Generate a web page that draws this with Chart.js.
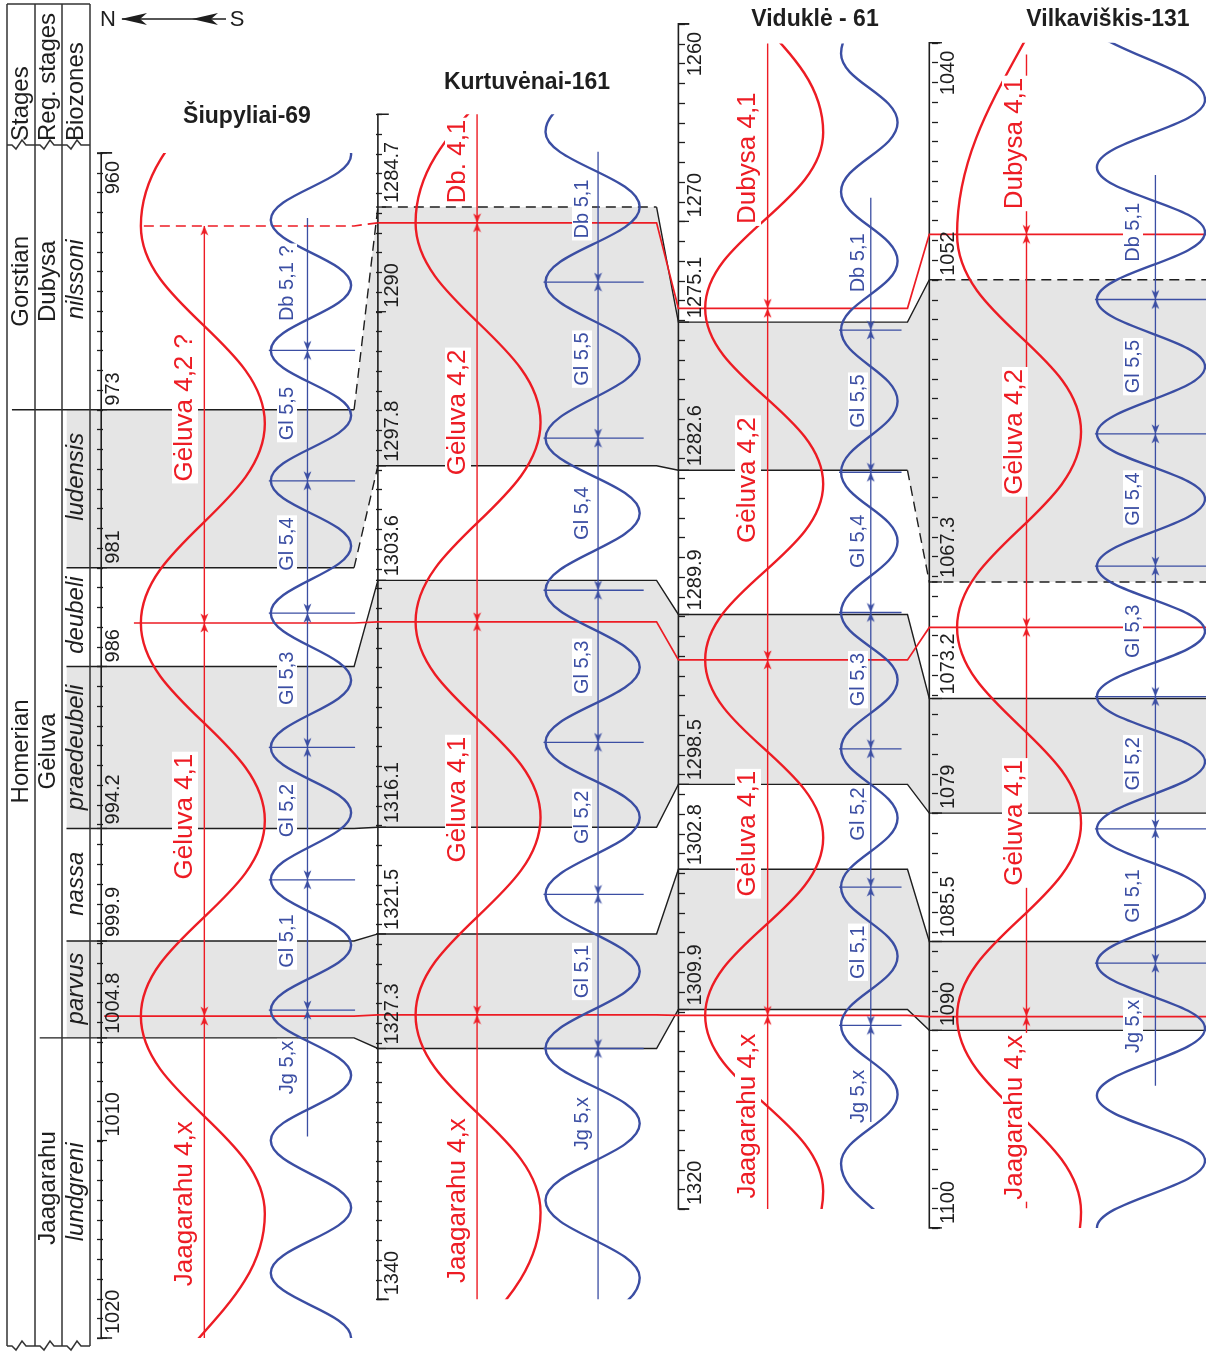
<!DOCTYPE html>
<html>
<head>
<meta charset="utf-8">
<title>Homerian cyclostratigraphic correlation</title>
<script src="https://cdn.jsdelivr.net/npm/chart.js@4.4.1/dist/chart.umd.min.js"></script>
<style>
  html, body { margin: 0; padding: 0; background: #fff; }
  canvas { display: block; }
</style>
</head>
<body>
<canvas id="section" width="1211" height="1353"></canvas>
<script>
/* eslint-disable */
// ---- wells (depths in metres) ----
const wellNames = ['Šiupyliai-69', 'Kurtuvėnai-161', 'Viduklė - 61', 'Vilkaviškis-131'];
const wellTop = [960, 1280, 1260, 1040];
const wellBase = [1020, 1340, 1320, 1100];

// biozone horizons, one depth per well
const topLudensis = [973, 1284.7, 1275.1, 1052];
const baseLudensis = [981, 1297.8, 1282.6, 1067.3];
const topPraedeubeli = [986, 1303.6, 1289.9, 1073.2];
const basePraedeubeli = [994.2, 1316.1, 1298.5, 1079];
const topParvus = [999.9, 1321.5, 1302.8, 1085.5];
const baseParvus = [1004.8, 1327.3, 1309.9, 1090];

// 4th order cycle boundaries
const baseDubysa41 = [963.7, 1285.5, 1274.4, 1049.7];
const baseGeluva42 = [983.8, 1305.7, 1292.2, 1069.6];
const baseGeluva41 = [1003.7, 1325.6, 1310.2, 1089.3];

// labelled depths on each log
const siupTicks = [960, 973, 981, 986, 994.2, 999.9, 1004.8, 1010, 1020];
const kurtTicks = [1284.7, 1290, 1297.8, 1303.6, 1316.1, 1321.5, 1327.3, 1340];
const vidTicks = [1260, 1270, 1275.1, 1282.6, 1289.9, 1298.5, 1302.8, 1309.9, 1320];
const vilkTicks = [1040, 1052, 1067.3, 1073.2, 1079, 1085.5, 1090, 1100];

// turning points of the 4th order curves (alternating sides)
const redTurns = [
  [953.7, 963.7, 973.7, 983.8, 993.8, 1003.7, 1013.7, 1023.7],
  [1275.5, 1285.5, 1295.6, 1305.7, 1315.6, 1325.6, 1335.6, 1345.6],
  [1256.6, 1265.5, 1274.4, 1283.3, 1292.2, 1301.2, 1310.2, 1319.1, 1328],
  [1015, 1031, 1049.7, 1059.7, 1069.6, 1079.5, 1089.3, 1099.2, 1109]
];
const redFirstRight = [true, true, false, false];

// turning points of the 5th order curves
const blueTurns = [
  [956.8, 960.1, 963.4, 966.7, 970.0, 973.3, 976.6, 979.9, 983.3, 986.7, 990.1, 993.4, 996.8, 1000.1, 1003.4, 1006.7, 1010.0, 1013.4, 1016.7, 1020.0, 1023.4],
  [1277.1, 1280.9, 1284.7, 1288.5, 1292.4, 1296.4, 1300.2, 1304.1, 1308.0, 1311.8, 1315.6, 1319.5, 1323.4, 1327.3, 1331.1, 1335.0, 1338.9, 1342.7],
  [1258.0, 1261.5, 1265.0, 1268.5, 1272.0, 1275.5, 1279.1, 1282.7, 1286.2, 1289.8, 1293.2, 1296.7, 1300.2, 1303.7, 1307.2, 1310.7, 1314.2, 1317.7, 1321.2],
  [1039.6, 1042.9, 1046.3, 1049.6, 1053.0, 1056.4, 1059.8, 1063.1, 1066.5, 1069.8, 1073.1, 1076.4, 1079.8, 1083.2, 1086.6, 1089.9, 1093.3, 1096.6, 1100, 1103.3]
];
const blueFirstRight = [false, true, true, false];
const blueBounds = [
  [970.0, 976.6, 983.3, 990.1, 996.8, 1003.4],
  [1288.5, 1296.4, 1304.1, 1311.8, 1319.5, 1327.3],
  [1275.5, 1282.7, 1289.8, 1296.7, 1303.7, 1310.7],
  [1053.0, 1059.8, 1066.5, 1073.1, 1079.8, 1086.6]
];
const curveSpan = [[960, 1020], [1280, 1340], [1261, 1320], [1040, 1100]];
const redStem = [[963.7, 1020], [1280, 1340], [1261, 1320], [1040.6, 1099]];
const blueStem = [[963.3, 1009.8], [1281.9, 1340], [1268.8, 1315.6], [1046.7, 1092.8]];

// cycle names and the depth each name is centred on
const redNames = [
  ['Gėluva 4,2 ?', 'Gėluva 4,1', 'Jaagarahu 4,x'],
  ['Db. 4,1', 'Gėluva 4,2', 'Gėluva 4,1', 'Jaagarahu 4,x'],
  ['Dubysa 4,1', 'Gėluva 4,2', 'Gėluva 4,1', 'Jaagarahu 4,x'],
  ['Dubysa 4,1', 'Gėluva 4,2', 'Gėluva 4,1', 'Jaagarahu 4,x']
];
const redNameAt = [
  [972.9, 993.6, 1013.2],
  [1282.4, 1295.1, 1314.7, 1335.0],
  [1266.8, 1283.1, 1301.0, 1315.3],
  [1045.1, 1059.7, 1079.5, 1094.4]
];
const blueNames = [
  ['Db 5,1 ?', 'Gl 5,5', 'Gl 5,4', 'Gl 5,3', 'Gl 5,2', 'Gl 5,1', 'Jg 5,x'],
  ['Db 5,1', 'Gl 5,5', 'Gl 5,4', 'Gl 5,3', 'Gl 5,2', 'Gl 5,1', 'Jg 5,x'],
  ['Db 5,1', 'Gl 5,5', 'Gl 5,4', 'Gl 5,3', 'Gl 5,2', 'Gl 5,1', 'Jg 5,x'],
  ['Db 5,1', 'Gl 5,5', 'Gl 5,4', 'Gl 5,3', 'Gl 5,2', 'Gl 5,1', 'Jg 5,x']
];
const blueNameAt = [
  [966.6, 973.2, 979.8, 986.6, 993.3, 999.9, 1006.3],
  [1284.8, 1292.4, 1300.2, 1308.0, 1315.6, 1323.4, 1331.1],
  [1272.1, 1279.1, 1286.2, 1293.2, 1300.0, 1307.0, 1314.3],
  [1049.6, 1056.4, 1063.1, 1069.8, 1076.5, 1083.2, 1089.8]
];

// stratigraphic columns (Šiupyliai-69 depths)
const stageNames = ['Gorstian', 'Homerian'];
const stageAt = [966.5, 990.3];
const regStageNames = ['Dubysa', 'Gėluva', 'Jaagarahu'];
const regStageAt = [966.5, 990.3, 1012.4];
const biozoneNames = ['nilssoni', 'ludensis', 'deubeli', 'praedeubeli', 'nassa', 'parvus', 'lundgreni'];
const biozoneAt = [966.4, 976.4, 983.4, 990.1, 997.0, 1002.3, 1012.6];

// ---- layout ----
const W = 1211, H = 1353;
const PX_PER_M = 19.9;
const wellTopPx = [149, 110, 19, 38];
const axisX = [97, 376, 679, 932];
const wellRight = [352, 657, 910, W];
const redLane = [[137, 262], [414, 540], [706, 825], [960, 1085]];
const blueLane = [[268, 349], [545, 640], [843, 900], [1101, 1210]];
const redStemX = [201, 476, 769, 1030];
const blueStemX = [305, 598, 873, 1160];
const redTextX = [185, 458, 748, 1015];
const blueTextX = [287, 582, 858, 1133];
const titleXY = [[247, 117], [527, 83], [815, 20], [1108, 20]];

const RED = '#ed1c24';
const BLUE = '#3b4ea3';
const GREY = '#e5e5e5';
const INK = '#1e1e1e';
const FONT = '"Liberation Sans", Arial, Helvetica, sans-serif';

// every well gets its own depth scale; all share the same metres-per-pixel
const yMin = wellTop.map((d, k) => d - wellTopPx[k] / PX_PER_M);
const shift = yMin.map(m => m - yMin[0]);

const scales = { x: { type: 'linear', min: 0, max: W, display: false } };
wellTop.forEach((top, k) => {
  const minor = [];
  for (let d = Math.ceil(top); d <= wellBase[k]; d++) minor.push(d);
  scales['w' + k] = {
    axis: 'y',
    type: 'linear',
    reverse: true,
    min: yMin[k],
    max: yMin[k] + H / PX_PER_M,
    position: { x: axisX[k] },
    border: { display: false },
    grid: { display: false },
    ticks: { display: false, autoSkip: false },
    // one tick per metre of the logged interval
    afterBuildTicks: (scale) => { scale.ticks = minor.map(v => ({ value: v })); }
  };
});

// horizon traced across the four wells, expressed on the first well's scale
function horizon(depths, x0) {
  const xs = [x0, wellRight[0], axisX[1], wellRight[1], axisX[2], wellRight[2], axisX[3], W];
  return xs.map((x, i) => ({ x, y: depths[i >> 1] - shift[i >> 1] }));
}

function wave(turns, firstRight, lane) {
  return turns.map((d, i) => ({ x: ((i % 2 === 0) === firstRight) ? lane[1] : lane[0], y: d }));
}

function arrowSprite(color) {
  // tip sits at the sprite centre, pointing down
  const c = document.createElement('canvas');
  c.width = 9; c.height = 22;
  const g = c.getContext('2d');
  g.fillStyle = color;
  g.beginPath();
  g.moveTo(4.5, 11);
  g.lineTo(0.6, 1.5);
  g.lineTo(4.5, 4);
  g.lineTo(8.4, 1.5);
  g.closePath();
  g.fill();
  return c;
}
const redArrow = arrowSprite(RED);
const blueArrow = arrowSprite(BLUE);

const datasets = [];
const addLine = (data, yAxisID, opts) => datasets.push(Object.assign({
  type: 'line', data, xAxisID: 'x', yAxisID, pointRadius: 0, fill: false,
  borderColor: INK, borderWidth: 1.4, tension: 0, order: 6
}, opts));
const dashBy = (flags) => ({ borderDash: ctx => flags[ctx.p0DataIndex] ? [10, 6] : [] });

// grey biozone bands
[[topLudensis, baseLudensis], [topPraedeubeli, basePraedeubeli], [topParvus, baseParvus]].forEach(([a, b]) => {
  addLine(horizon(a, 62), 'w0', { borderWidth: 0, borderColor: 'rgba(0,0,0,0)', backgroundColor: GREY, fill: '+1', order: 20 });
  addLine(horizon(b, 62), 'w0', { borderWidth: 0, borderColor: 'rgba(0,0,0,0)', order: 20 });
});

// black correlation lines
addLine(horizon(topLudensis, 7), 'w0', { segment: dashBy([0, 1, 1, 0, 0, 0, 1]) });
addLine(horizon(baseLudensis, 62), 'w0', { segment: dashBy([0, 1, 0, 0, 0, 1, 1]) });
addLine(horizon(topPraedeubeli, 62), 'w0', {});
addLine(horizon(basePraedeubeli, 62), 'w0', {});
addLine(horizon(topParvus, 62), 'w0', {});
addLine(horizon(baseParvus, 35), 'w0', {});

// red cycle correlation lines
addLine(horizon(baseDubysa41, 140), 'w0', { borderColor: RED, borderWidth: 1.7, order: 5, segment: dashBy([1, 1, 0, 0, 0, 0, 0]) });
addLine(horizon(baseGeluva42, 130), 'w0', { borderColor: RED, borderWidth: 1.7, order: 5 });
addLine(horizon(baseGeluva41, 100), 'w0', { borderColor: RED, borderWidth: 1.7, order: 5 });

function arrowSet(x, bounds, stem, sprite, yAxisID) {
  const pts = [], rot = [];
  bounds.forEach(b => {
    if (b > stem[0] + 0.2) { pts.push({ x, y: b }); rot.push(0); }
    if (b < stem[1] - 0.2) { pts.push({ x, y: b }); rot.push(180); }
  });
  datasets.push({
    type: 'line', data: pts, xAxisID: 'x', yAxisID, showLine: false,
    pointStyle: sprite, pointRotation: rot, pointRadius: 4, order: 1
  });
}

for (let k = 0; k < 4; k++) {
  const yId = 'w' + k;
  const redBounds = [baseDubysa41[k], baseGeluva42[k], baseGeluva41[k]];

  // depth axis line with end caps
  addLine([
    { x: axisX[k] + 11, y: wellTop[k] }, { x: axisX[k], y: wellTop[k] },
    { x: axisX[k], y: wellBase[k] }, { x: axisX[k] + 11, y: wellBase[k] }
  ], yId, { borderWidth: 1.6, order: 6 });

  // cycle curves
  const curveOpts = { borderWidth: 2.4, tension: 0.4, capBezierPoints: false, order: 4, clipDepth: curveSpan[k] };
  addLine(wave(redTurns[k], redFirstRight[k], redLane[k]), yId, Object.assign({ borderColor: RED }, curveOpts));
  addLine(wave(blueTurns[k], blueFirstRight[k], blueLane[k]), yId, Object.assign({ borderColor: BLUE }, curveOpts));

  // cycle stems
  addLine([{ x: redStemX[k], y: redStem[k][0] }, { x: redStemX[k], y: redStem[k][1] }], yId,
    { borderColor: RED, borderWidth: 1.4, order: 3 });
  addLine([{ x: blueStemX[k], y: blueStem[k][0] }, { x: blueStemX[k], y: blueStem[k][1] }], yId,
    { borderColor: BLUE, borderWidth: 1.3, order: 3 });

  // 5th order boundary marks
  const marks = [];
  blueBounds[k].forEach(b => {
    marks.push({ x: blueLane[k][0] - 2, y: b }, { x: blueLane[k][1] + 4, y: b }, { x: blueLane[k][1] + 4, y: null });
  });
  addLine(marks, yId, { borderColor: BLUE, borderWidth: 1.3, order: 3 });

  arrowSet(redStemX[k], redBounds, redStem[k], redArrow, yId);
  arrowSet(blueStemX[k], blueBounds[k], blueStem[k], blueArrow, yId);
}

// ---- text helpers ----
function vText(ctx, text, x, y, font, color, align, box) {
  ctx.save();
  ctx.translate(x, y);
  ctx.rotate(-Math.PI / 2);
  ctx.font = font;
  ctx.textAlign = align || 'center';
  ctx.textBaseline = 'middle';
  if (box) {
    const w = ctx.measureText(text).width;
    const x0 = ctx.textAlign === 'center' ? -w / 2 : ctx.textAlign === 'left' ? 0 : -w;
    ctx.fillStyle = '#fff';
    ctx.fillRect(x0 - 2, -box / 2, w + 4, box);
  }
  ctx.fillStyle = color;
  ctx.fillText(text, 0, 0);
  ctx.restore();
}

function zigzag(ctx, xl, xr, y) {
  ctx.beginPath();
  ctx.moveTo(xl, y);
  ctx.lineTo(xl + 5, y);
  ctx.lineTo(xl + 9, y + 4);
  ctx.lineTo(xl + 15, y - 5);
  ctx.lineTo(xl + 19, y);
  ctx.lineTo(xr, y);
  ctx.stroke();
}

function arrowHead(ctx, x, y) {
  ctx.beginPath();
  ctx.moveTo(x, y);
  ctx.lineTo(x + 26, y - 6);
  ctx.lineTo(x + 19, y);
  ctx.lineTo(x + 26, y + 6);
  ctx.closePath();
  ctx.fill();
}

const sectionDecor = {
  id: 'sectionDecor',
  beforeDatasetDraw(chart, args) {
    const ds = chart.data.datasets[args.index];
    if (!ds.clipDepth) return;
    const s = chart.scales[ds.yAxisID];
    const y0 = s.getPixelForValue(ds.clipDepth[0]);
    const y1 = s.getPixelForValue(ds.clipDepth[1]);
    chart.ctx.save();
    chart.ctx.beginPath();
    chart.ctx.rect(0, y0, chart.width, y1 - y0);
    chart.ctx.clip();
  },
  afterDatasetDraw(chart, args) {
    if (chart.data.datasets[args.index].clipDepth) chart.ctx.restore();
  },
  afterDatasetsDraw(chart) {
    const ctx = chart.ctx;
    const s0 = chart.scales.w0;

    // stratigraphic columns
    ctx.save();
    ctx.strokeStyle = '#333';
    ctx.lineWidth = 1.5;
    [7, 35, 62, 90].forEach(x => {
      ctx.beginPath(); ctx.moveTo(x, 4); ctx.lineTo(x, 1346); ctx.stroke();
    });
    ctx.beginPath(); ctx.moveTo(7, 4); ctx.lineTo(90, 4); ctx.stroke();
    [[7, 35], [35, 62], [62, 90]].forEach(([a, b]) => {
      zigzag(ctx, a, b, 145);
      zigzag(ctx, a, b, 1346);
    });
    ctx.restore();

    const headFont = '24px ' + FONT;
    vText(ctx, 'Stages', 21, 141, headFont, INK, 'left');
    vText(ctx, 'Reg. stages', 48.5, 141, headFont, INK, 'left');
    vText(ctx, 'Biozones', 76, 141, headFont, INK, 'left');
    stageNames.forEach((t, i) => vText(ctx, t, 21, s0.getPixelForValue(stageAt[i]), headFont, INK));
    regStageNames.forEach((t, i) => vText(ctx, t, 48.5, s0.getPixelForValue(regStageAt[i]), headFont, INK));
    biozoneNames.forEach((t, i) => vText(ctx, t, 76, s0.getPixelForValue(biozoneAt[i]), 'italic 24px ' + FONT, INK));

    // depth ticks (from each scale's own tick list) and labels
    const tickLists = [siupTicks, kurtTicks, vidTicks, vilkTicks];
    ctx.save();
    ctx.strokeStyle = INK;
    tickLists.forEach((list, k) => {
      const s = chart.scales['w' + k];
      ctx.lineWidth = 1.3;
      s.ticks.forEach(t => {
        const y = Math.round(s.getPixelForValue(t.value)) + 0.5;
        ctx.beginPath(); ctx.moveTo(axisX[k], y); ctx.lineTo(axisX[k] + 6, y); ctx.stroke();
      });
      list.forEach(v => {
        const y = s.getPixelForValue(v);
        ctx.beginPath(); ctx.moveTo(axisX[k], y); ctx.lineTo(axisX[k] + 10, y); ctx.stroke();
        const atTop = v === wellTop[k];
        vText(ctx, String(v), axisX[k] + 16, atTop ? y + 8 : y - 4, '20px ' + FONT, INK, atTop ? 'right' : 'left');
      });
    });
    ctx.restore();

    // cycle names
    for (let k = 0; k < 4; k++) {
      const s = chart.scales['w' + k];
      redNames[k].forEach((t, i) =>
        vText(ctx, t, redTextX[k], s.getPixelForValue(redNameAt[k][i]), '26px ' + FONT, RED, 'center', 26));
      blueNames[k].forEach((t, i) =>
        vText(ctx, t, blueTextX[k], s.getPixelForValue(blueNameAt[k][i]), '20px ' + FONT, BLUE, 'center', 20));
    }

    // well titles
    ctx.save();
    ctx.font = 'bold 23px ' + FONT;
    ctx.fillStyle = INK;
    ctx.textAlign = 'center';
    ctx.textBaseline = 'middle';
    wellNames.forEach((n, k) => ctx.fillText(n, titleXY[k][0], titleXY[k][1]));

    // N - S direction arrow
    ctx.font = '22px ' + FONT;
    ctx.fillText('N', 108, 20);
    ctx.fillText('S', 237, 20);
    ctx.strokeStyle = INK;
    ctx.lineWidth = 1.3;
    ctx.beginPath(); ctx.moveTo(122, 19); ctx.lineTo(226, 19); ctx.stroke();
    arrowHead(ctx, 121, 19);
    arrowHead(ctx, 192, 19);
    ctx.restore();
  }
};

new Chart(document.getElementById('section'), {
  type: 'line',
  data: { datasets },
  options: {
    responsive: false,
    animation: false,
    events: [],
    layout: { padding: 0 },
    scales,
    plugins: {
      legend: { display: false },
      tooltip: { enabled: false },
      title: { display: false }
    }
  },
  plugins: [sectionDecor]
});
</script>
</body>
</html>
